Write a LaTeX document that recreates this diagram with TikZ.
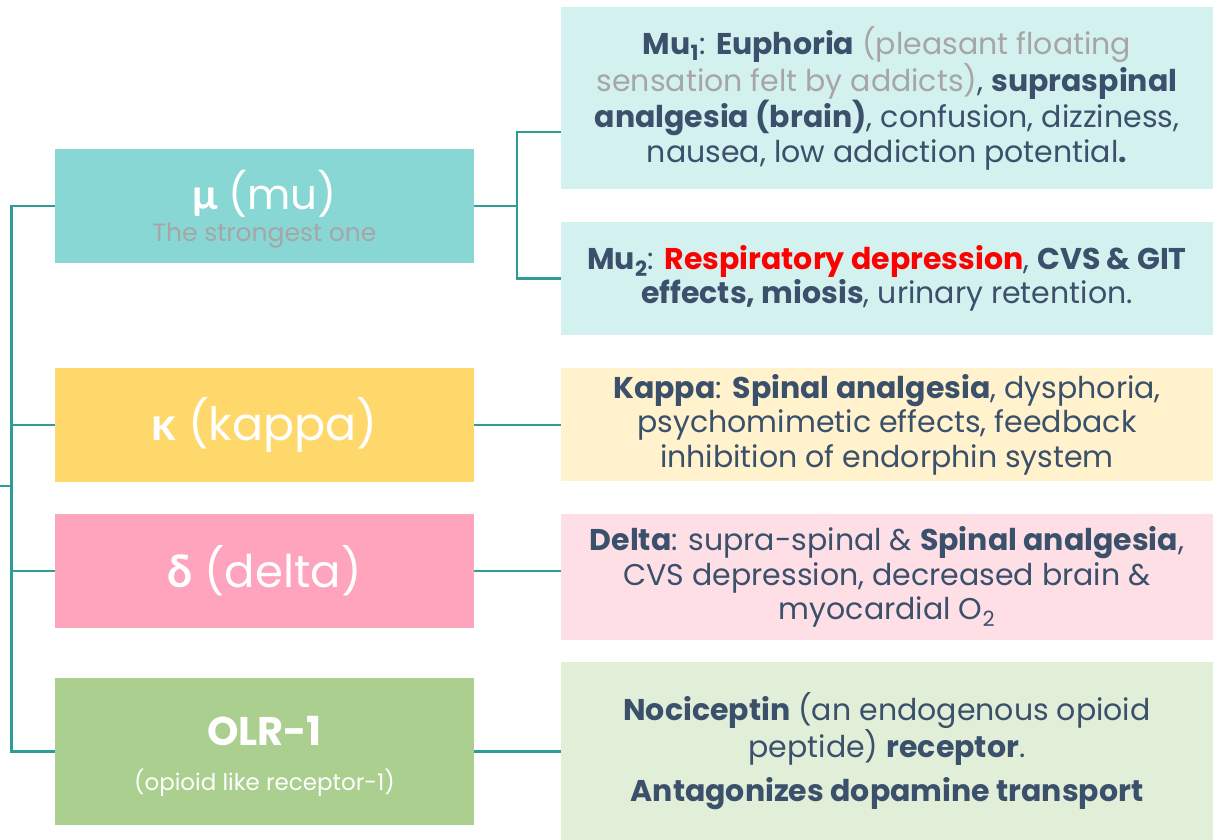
\documentclass[tikz,border=0pt]{standalone}
\usepackage{fontspec}
\setmainfont{Poppins}
\newfontfamily\greekfont{Lato}
\definecolor{linec}{HTML}{2F9C95}
\definecolor{txt}{HTML}{3A506B}
\definecolor{grayt}{HTML}{A6A6A6}
\definecolor{mudark}{HTML}{88D7D5}
\definecolor{mulight}{HTML}{D3F1EF}
\definecolor{kadark}{HTML}{FFD86B}
\definecolor{kalight}{HTML}{FFF2CC}
\definecolor{dedark}{HTML}{FFA4BD}
\definecolor{delight}{HTML}{FFDFE6}
\definecolor{oldark}{HTML}{AACF8F}
\definecolor{ollight}{HTML}{E1EED8}
\begin{document}
\begin{tikzpicture}[x=1pt,y=-1pt,
  recbox/.style={rectangle, inner sep=0pt, minimum width=419pt, text=white, align=center},
  rectext/.style={inner sep=0pt, anchor=base, text=white},
  descbox/.style={rectangle, inner sep=0pt, minimum width=652pt, text=txt, align=center,
    font=\fontsize{30}{34.5}\selectfont},
  conn/.style={draw=linec, line width=2.6pt}]
\useasboundingbox (0,0) rectangle (1216,839);
% left receptor boxes
\node[recbox, fill=mudark, minimum height=114pt] (mu) at (264.5,206) {};
\node[rectext, font=\fontsize{42}{46}\selectfont] (mutitle) at (264.5,209)
  {{\greekfont\bfseries μ} (mu)};
\node[rectext, text=grayt, font=\fontsize{25}{28}\selectfont] (musub) at (264.5,241)
  {The strongest one};
\node[recbox, fill=kadark, minimum height=114pt] (kappa) at (264.5,425)
  {\fontsize{46}{50}\selectfont{\greekfont\bfseries κ} (kappa)};
\node[recbox, fill=dedark, minimum height=114pt] (delta) at (264.5,571)
  {\fontsize{45}{50}\selectfont{\greekfont\bfseries δ} (delta)};
\node[recbox, fill=oldark, minimum height=147pt] (olr) at (264.5,751.5) {};
\node[rectext, font=\fontsize{40}{44}\selectfont\bfseries] (olrtitle) at (264.5,745)
  {OLR-1};
\node[rectext, font=\fontsize{23}{26}\selectfont] (olrsub) at (264.5,790)
  {(opioid like receptor-1)};
% right description boxes
\node[descbox, fill=mulight, minimum height=182pt] (mu1) at (887,98)
  {{\bfseries Mu\textsubscript{1}}: {\bfseries Euphoria} {\color{grayt}(pleasant floating}\\
   {\color{grayt}sensation felt by addicts)}, {\bfseries supraspinal}\\
   {\bfseries analgesia (brain)}, confusion, dizziness,\\
   nausea, low addiction potential{\bfseries .}};
\node[descbox, fill=mulight, minimum height=113pt] (mu2) at (887,278.5)
  {{\bfseries Mu\textsubscript{2}}: {\bfseries\color{red}Respiratory depression}, {\bfseries CVS \& GIT}\\
   {\bfseries effects, miosis}, urinary retention.};
\node[descbox, fill=kalight, minimum height=113pt] (kappa2) at (887,424.5)
  {{\bfseries Kappa}: {\bfseries Spinal analgesia}, dysphoria,\\
   psychomimetic effects, feedback\\
   inhibition of endorphin system};
\node[descbox, fill=delight, minimum height=126pt] (delta2) at (887,577)
  {{\bfseries Delta}: supra-spinal \& {\bfseries Spinal analgesia},\\
   CVS depression, decreased brain \&\\
   myocardial O\textsubscript{2}};
\node[descbox, fill=ollight, minimum height=178pt] (olr2) at (887,751)
  {{\bfseries Nociceptin} (an endogenous opioid\\
   peptide) {\bfseries receptor}.\\[10pt]
   {\bfseries Antagonizes dopamine transport}};
% connectors
\coordinate (rootin) at (0,486);
\coordinate (trunk) at (11.5,486);
\coordinate (j1) at (517,132);
\coordinate (j2) at (517,278.5);
\draw[conn] (rootin) -- (trunk);
\draw[conn] (mu.west) -- (mu.west -| trunk) -- (olr.west -| trunk) -- (olr.west);
\draw[conn] (kappa.west) -- (kappa.west -| trunk);
\draw[conn] (delta.west) -- (delta.west -| trunk);
\draw[conn] (mu.east) -- (mu.east -| j1);
\draw[conn] (j1 -| mu1.west) -- (j1) -- (j2) -- (mu2.west);
\draw[conn] (kappa.east) -- (kappa.east -| kappa2.west);
\draw[conn] (delta.east) -- (delta.east -| delta2.west);
\draw[conn] (olr.east) -- (olr.east -| olr2.west);
\end{tikzpicture}
\end{document}
